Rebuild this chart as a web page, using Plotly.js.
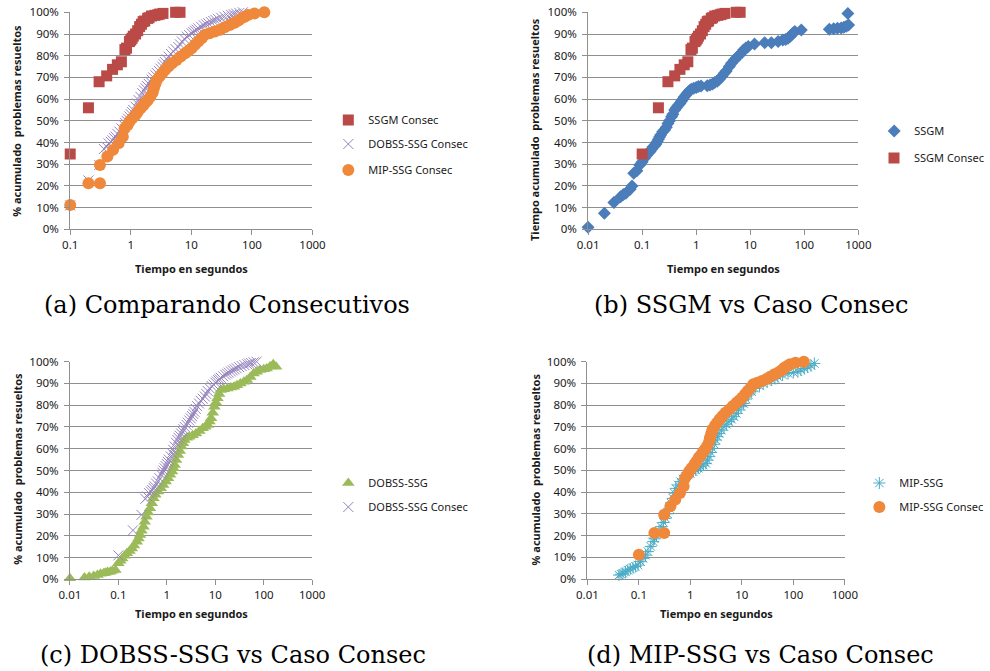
<!DOCTYPE html>
<html>
<head>
<meta charset="utf-8">
<script src="https://cdn.plot.ly/plotly-3.0.1.min.js"></script>
<style>html,body{margin:0;padding:0;background:#fff;}#chart{width:990px;height:671px;}</style>
</head>
<body>
<div id="chart"></div>
<script>
// ---------- DATA ----------
const xTickVals = [0.01, 0.1, 1, 10, 100, 1000];
const xTickText = ['0.01', '0.1', '1', '10', '100', '1000'];
const yTickVals = [0, 10, 20, 30, 40, 50, 60, 70, 80, 90, 100];
const yTickText = ['0%', '10%', '20%', '30%', '40%', '50%', '60%', '70%', '80%', '90%', '100%'];

// SSGM Consec (time in s, cumulative % solved)
const ssgmConsecX = [0.1, 0.2, 0.3, 0.4, 0.5, 0.6, 0.7, 0.8, 0.85, 0.95, 1.0, 1.05, 1.1, 1.2, 1.3, 1.4, 1.5, 1.6, 1.7, 1.9, 2.0, 2.2, 2.5, 2.8, 3.0, 3.4, 5.5, 6.5];
const ssgmConsecY = [34.7, 56, 68, 70.7, 73.7, 75.8, 77.2, 82.8, 83.5, 86.5, 87.2, 88, 89, 90, 91.5, 93.4, 94.5, 95.7, 96, 97.2, 97.5, 98.3, 98.6, 98.9, 99.2, 99.5, 100, 100];

// DOBSS-SSG Consec
const dobssConsecX = [0.1, 0.2, 0.3, 0.36, 0.4, 0.43, 0.47, 0.5, 0.53, 0.56, 0.6, 0.65, 0.7, 0.77, 0.81, 0.85, 0.9, 0.95, 1.0, 1.05, 1.1, 1.2, 1.27, 1.35, 1.45, 1.55, 1.65, 1.75, 1.85, 1.98, 2.1, 2.2, 2.35, 2.55, 2.7, 2.9, 3.1, 3.3, 3.5, 3.7, 3.95, 4.2, 4.6, 5.0, 5.5, 6.1, 6.5, 7.0, 7.7, 8.4, 9.2, 10.1, 10.8, 11.5, 12.2, 13, 14.5, 16, 17.5, 19, 21, 23, 25, 27.5, 31, 35, 40, 45.5, 50, 55, 62, 71];
const dobssConsecY = [11, 22.5, 29.6, 37, 38, 39.6, 40.3, 41, 42, 42.7, 44, 45, 46.5, 48, 49, 50, 51, 52, 53, 54, 55, 56.5, 58, 59.5, 61, 62.7, 64, 65, 66, 67, 68, 69, 70, 71, 72, 73, 74, 75, 76, 77, 78.3, 79.6, 80.8, 82, 83, 84, 85.2, 86.5, 87.7, 88.8, 89.5, 90.3, 90.9, 91.5, 92, 92.6, 93.3, 94, 94.5, 95, 95.5, 96, 96.5, 97, 97.5, 98, 98.4, 98.8, 99.1, 99.4, 99.7, 100];

// MIP-SSG Consec
const mipConsecX = [0.1, 0.2, 0.31, 0.31, 0.41, 0.51, 0.63, 0.74, 0.79, 0.88, 0.95, 1.05, 1.2, 1.3, 1.45, 1.6, 1.75, 1.9, 2.1, 2.3, 2.4, 2.55, 2.7, 3.0, 3.3, 3.7, 4.2, 4.8, 5.7, 6.7, 7.9, 9, 10.1, 11.5, 13, 14.8, 16.7, 20, 24.5, 30, 35.5, 43, 52, 60, 67, 76, 86, 110, 160];
const mipConsecY = [11.2, 21.2, 21.2, 29.6, 33.5, 36.6, 39.6, 42.7, 46.5, 48, 49.6, 51, 52.7, 54, 55.8, 57, 58.4, 59.5, 61.1, 63, 65, 67, 68.8, 70.5, 71.9, 73.5, 75, 76.5, 78, 79.6, 81.1, 82.3, 83.4, 85, 86.5, 88, 89.6, 90.3, 91.1, 92, 93.1, 94.2, 95.2, 96.2, 97.2, 98, 98.8, 99.5, 100];

// SSGM
const ssgmX = [0.01, 0.02, 0.03, 0.04, 0.045, 0.05, 0.06, 0.065, 0.07, 0.08, 0.09, 0.1, 0.11, 0.12, 0.13, 0.14, 0.15, 0.16, 0.17, 0.18, 0.19, 0.2, 0.21, 0.22, 0.24, 0.26, 0.28, 0.3, 0.32, 0.35, 0.37, 0.4, 0.43, 0.46, 0.5, 0.53, 0.57, 0.6, 0.65, 0.7, 0.75, 0.81, 0.9, 1.0, 1.1, 1.23, 1.6, 1.8, 2.0, 2.2, 2.45, 2.67, 3.0, 3.3, 3.6, 4.1, 4.5, 5.1, 5.6, 6.3, 7.0, 7.5, 8.3, 9.2, 12, 18.5, 24.6, 32.8, 40, 45, 50, 55, 58, 62, 67, 88, 290, 350, 410, 480, 540, 600, 660, 640];
const ssgmY = [0.9, 7.4, 12.4, 15, 16, 16.6, 18.5, 20, 25.8, 27, 29.6, 31, 32.7, 34, 35.2, 35.8, 37, 38, 38.5, 39.3, 40.4, 41.5, 42.5, 43.5, 45, 45.8, 47, 48.8, 50, 51.9, 53, 55, 56, 57, 58, 59, 60, 61, 62, 63, 63.9, 64.5, 65, 65.4, 65.8, 66, 66.2, 66.5, 67, 67.6, 68.2, 69.1, 70.5, 71.9, 73, 75, 76.5, 78, 79.2, 80.3, 81.5, 82.6, 83.5, 84.2, 85.4, 86, 86, 86.5, 87.2, 87.5, 88, 89, 89.6, 90.5, 91.1, 91.9, 92.2, 92.4, 92.6, 92.8, 93.1, 93.6, 94.2, 99.5];

// DOBSS-SSG
const dobssX = [0.01, 0.02, 0.025, 0.031, 0.037, 0.043, 0.05, 0.054, 0.06, 0.068, 0.075, 0.087, 0.1, 0.11, 0.12, 0.135, 0.15, 0.17, 0.19, 0.21, 0.24, 0.26, 0.28, 0.3, 0.33, 0.35, 0.38, 0.41, 0.45, 0.49, 0.53, 0.58, 0.66, 0.75, 0.84, 0.95, 1.06, 1.17, 1.28, 1.37, 1.45, 1.55, 1.7, 1.85, 2.0, 2.15, 2.3, 2.6, 2.9, 3.4, 4.0, 4.7, 5.5, 6.2, 7.0, 7.6, 8.2, 8.9, 9.6, 10.3, 11.1, 12, 13, 15, 17.8, 21, 24.3, 28, 33, 39, 45, 53, 62, 72, 84, 100, 115, 135, 157, 180];
const dobssY = [0.5, 0.8, 1.2, 1.5, 2, 2.6, 2.8, 3, 3.3, 3.5, 3.9, 4.3, 7.4, 8.5, 9.6, 10.8, 12, 13, 14.2, 15.5, 17.3, 18.8, 20.4, 22.3, 24.2, 26.5, 28.8, 30.7, 32.6, 35, 37.2, 38.8, 40.3, 41.8, 43.3, 45, 46.4, 48, 49.5, 51, 52.5, 54.8, 57.1, 59, 61, 62.5, 64, 65, 65.5, 66.2, 67, 68.2, 69.4, 70.1, 70.9, 72.5, 74, 76.5, 79.3, 81.2, 83.2, 85.2, 87, 87.3, 87.7, 88.1, 88.5, 89.2, 90, 90.8, 91.6, 93, 94.6, 95.4, 96.2, 96.5, 96.9, 97.8, 98.8, 97.7];

// MIP-SSG
const mipX = [0.041, 0.045, 0.049, 0.055, 0.061, 0.068, 0.077, 0.086, 0.096, 0.108, 0.12, 0.135, 0.15, 0.17, 0.19, 0.2, 0.22, 0.245, 0.27, 0.3, 0.33, 0.36, 0.39, 0.42, 0.46, 0.49, 0.52, 0.58, 0.65, 0.72, 0.81, 0.9, 1.0, 1.13, 1.27, 1.42, 1.58, 1.78, 2.0, 2.15, 2.3, 2.5, 2.7, 2.9, 3.1, 3.35, 3.6, 4.0, 4.5, 5.0, 5.6, 6.3, 7.0, 7.8, 8.6, 9.7, 10.8, 12, 13.4, 15.5, 18, 22, 26, 31, 38, 44, 50, 62, 79, 100, 123, 140, 163, 190, 220, 256];
const mipY = [1.8, 2.2, 2.6, 3.3, 4.1, 4.6, 5.2, 5.8, 6.4, 8, 9.5, 11, 12.6, 15, 17.2, 18.5, 20.2, 22, 24.1, 26, 27.9, 30, 32.5, 35, 37.1, 39.5, 41.7, 43.3, 44.8, 46, 47.1, 47.9, 48.6, 49.4, 50.2, 51, 51.7, 52.4, 53.2, 54.7, 56.3, 58.2, 60.1, 62, 64, 65.5, 67, 68.5, 70.1, 71.2, 72.4, 73.5, 74.7, 76.2, 77.8, 79.3, 80.8, 82.8, 84.7, 86.2, 87.7, 88.9, 90, 90.8, 91.6, 92.3, 93.1, 93.9, 94.6, 95, 95.4, 96.2, 96.9, 97.5, 98.2, 99.2];

const captions = ['(a) Comparando Consecutivos', '(b) SSGM vs Caso Consec', '(c) DOBSS-SSG vs Caso Consec', '(d) MIP-SSG vs Caso Consec'];
const yTitleA = '% acumulado\u00a0 problemas resueltos';
const yTitleB = 'Tiempo acumulado\u00a0 problemas resueltos';
const xTitle = 'Tiempo en segundos';

// ---------- STYLES ----------
const W = 990, H = 671;
const FONT = 'Noto Sans, Open Sans, sans-serif';
const C = {
  red: '#BA4A47', purple: '#9584BE', orange: '#EF883B',
  blue: '#4A7DBA', green: '#9BBB59', teal: '#4BACC6'
};
const px = v => v / W;
const py = v => 1 - v / H;

const mk = {
  ssgmConsec: {symbol: 'square', size: 11, color: C.red},
  dobssConsec: {symbol: 'x-thin-open', size: 10, color: C.purple, line: {color: C.purple, width: 1}},
  mipConsec: {symbol: 'circle', size: 12, color: C.orange},
  ssgm: {symbol: 'diamond', size: 10, color: C.blue},
  dobss: {symbol: 'triangle-up', size: 11, color: C.green},
  mip: {symbol: 'asterisk-open', size: 10, color: C.teal, line: {color: C.teal, width: 1}}
};

function tr(x, y, name, marker, xa, ya, legend) {
  return {type: 'scatter', mode: 'markers', x: x, y: y, name: name, marker: marker,
          xaxis: xa, yaxis: ya, legend: legend, cliponaxis: false, hoverinfo: 'skip'};
}

const data = [
  tr(ssgmConsecX, ssgmConsecY, 'SSGM Consec', mk.ssgmConsec, 'x', 'y', 'legend'),
  tr(dobssConsecX, dobssConsecY, 'DOBSS-SSG Consec', mk.dobssConsec, 'x', 'y', 'legend2'),
  tr(mipConsecX, mipConsecY, 'MIP-SSG Consec', mk.mipConsec, 'x', 'y', 'legend3'),
  tr(ssgmX, ssgmY, 'SSGM', mk.ssgm, 'x2', 'y2', 'legend4'),
  tr(ssgmConsecX, ssgmConsecY, 'SSGM Consec', mk.ssgmConsec, 'x2', 'y2', 'legend5'),
  tr(dobssX, dobssY, 'DOBSS-SSG', mk.dobss, 'x3', 'y3', 'legend6'),
  tr(dobssConsecX, dobssConsecY, 'DOBSS-SSG Consec', mk.dobssConsec, 'x3', 'y3', 'legend7'),
  tr(mipX, mipY, 'MIP-SSG', mk.mip, 'x4', 'y4', 'legend8'),
  tr(mipConsecX, mipConsecY, 'MIP-SSG Consec', mk.mipConsec, 'x4', 'y4', 'legend9')
];

const GRID = '#8f8f8f';
function xax(l, r, lo, anchor) {
  return {type: 'log', domain: [px(l), px(r)], range: [lo, 3], anchor: anchor,
    tickvals: xTickVals, ticktext: xTickText, showgrid: false, zeroline: false,
    showline: true, linecolor: GRID, linewidth: 1, ticks: 'outside', ticklen: 5, tickcolor: GRID,
    tickfont: {family: FONT, size: 11.5, color: '#1a1a1a'}, fixedrange: true};
}
function yax(t, b, anchor) {
  return {domain: [py(b), py(t)], range: [0, 100], anchor: anchor,
    tickvals: yTickVals, ticktext: yTickText, showgrid: true, gridcolor: GRID, gridwidth: 1,
    zeroline: false, showline: true, linecolor: GRID, linewidth: 1, ticks: 'outside', ticklen: 5, tickcolor: GRID,
    ticklabelstandoff: 3,
    tickfont: {family: FONT, size: 11.5, color: '#1a1a1a'}, fixedrange: true};
}

function leg(mx, my) {
  return {x: px(mx - 20), y: py(my), xanchor: 'left', yanchor: 'middle', bgcolor: 'rgba(0,0,0,0)',
    font: {family: FONT, size: 11, color: '#1a1a1a'}, borderwidth: 0};
}

function ann(text, x, y, opts) {
  return Object.assign({text: text, xref: 'paper', yref: 'paper', x: px(x), y: py(y),
    xanchor: 'center', yanchor: 'middle', showarrow: false}, opts || {});
}
const axTitleFont = {family: FONT, size: 11, color: '#1a1a1a', weight: 'bold'};
const capFont = {family: 'DejaVu Serif, serif', size: 24, color: '#000'};

const layout = {
  width: W, height: H, margin: {l: 0, r: 0, t: 0, b: 0},
  paper_bgcolor: '#fff', plot_bgcolor: '#fff', showlegend: true,
  xaxis: xax(71, 316, -1, 'y'), yaxis: yax(12.3, 229.3, 'x'),
  xaxis2: xax(594.7, 868, -2, 'y2'), yaxis2: yax(12.3, 229.3, 'x2'),
  xaxis3: xax(70.7, 315.7, -2, 'y3'), yaxis3: yax(361.7, 579.3, 'x3'),
  xaxis4: xax(594, 854.3, -2, 'y4'), yaxis4: yax(361.7, 579, 'x4'),
  legend: leg(352, 120), legend2: leg(352, 144), legend3: leg(352, 170),
  legend4: leg(904, 131), legend5: leg(904, 158),
  legend6: leg(352, 483), legend7: leg(352, 507),
  legend8: leg(889, 483), legend9: leg(889, 507),
  annotations: [
    ann(xTitle, 193.5, 268, {font: axTitleFont}),
    ann(xTitle, 731.4, 268, {font: axTitleFont}),
    ann(xTitle, 193.2, 613, {font: axTitleFont}),
    ann(xTitle, 724.2, 613, {font: axTitleFont}),
    ann(yTitleA, 17, 121, {font: axTitleFont, textangle: -90}),
    ann(yTitleB, 540, 130, {font: axTitleFont, textangle: -90}),
    ann(yTitleA, 17, 469, {font: axTitleFont, textangle: -90}),
    ann(yTitleA, 541.5, 469, {font: axTitleFont, textangle: -90}),
    ann(captions[0], 229.5, 305, {font: capFont}),
    ann(captions[1], 759, 305, {font: capFont}),
    ann(captions[2], 235.5, 655, {font: capFont}),
    ann(captions[3], 769.5, 655, {font: capFont})
  ]
};

Plotly.newPlot('chart', data, layout, {staticPlot: true, displayModeBar: false});
</script>
</body>
</html>
